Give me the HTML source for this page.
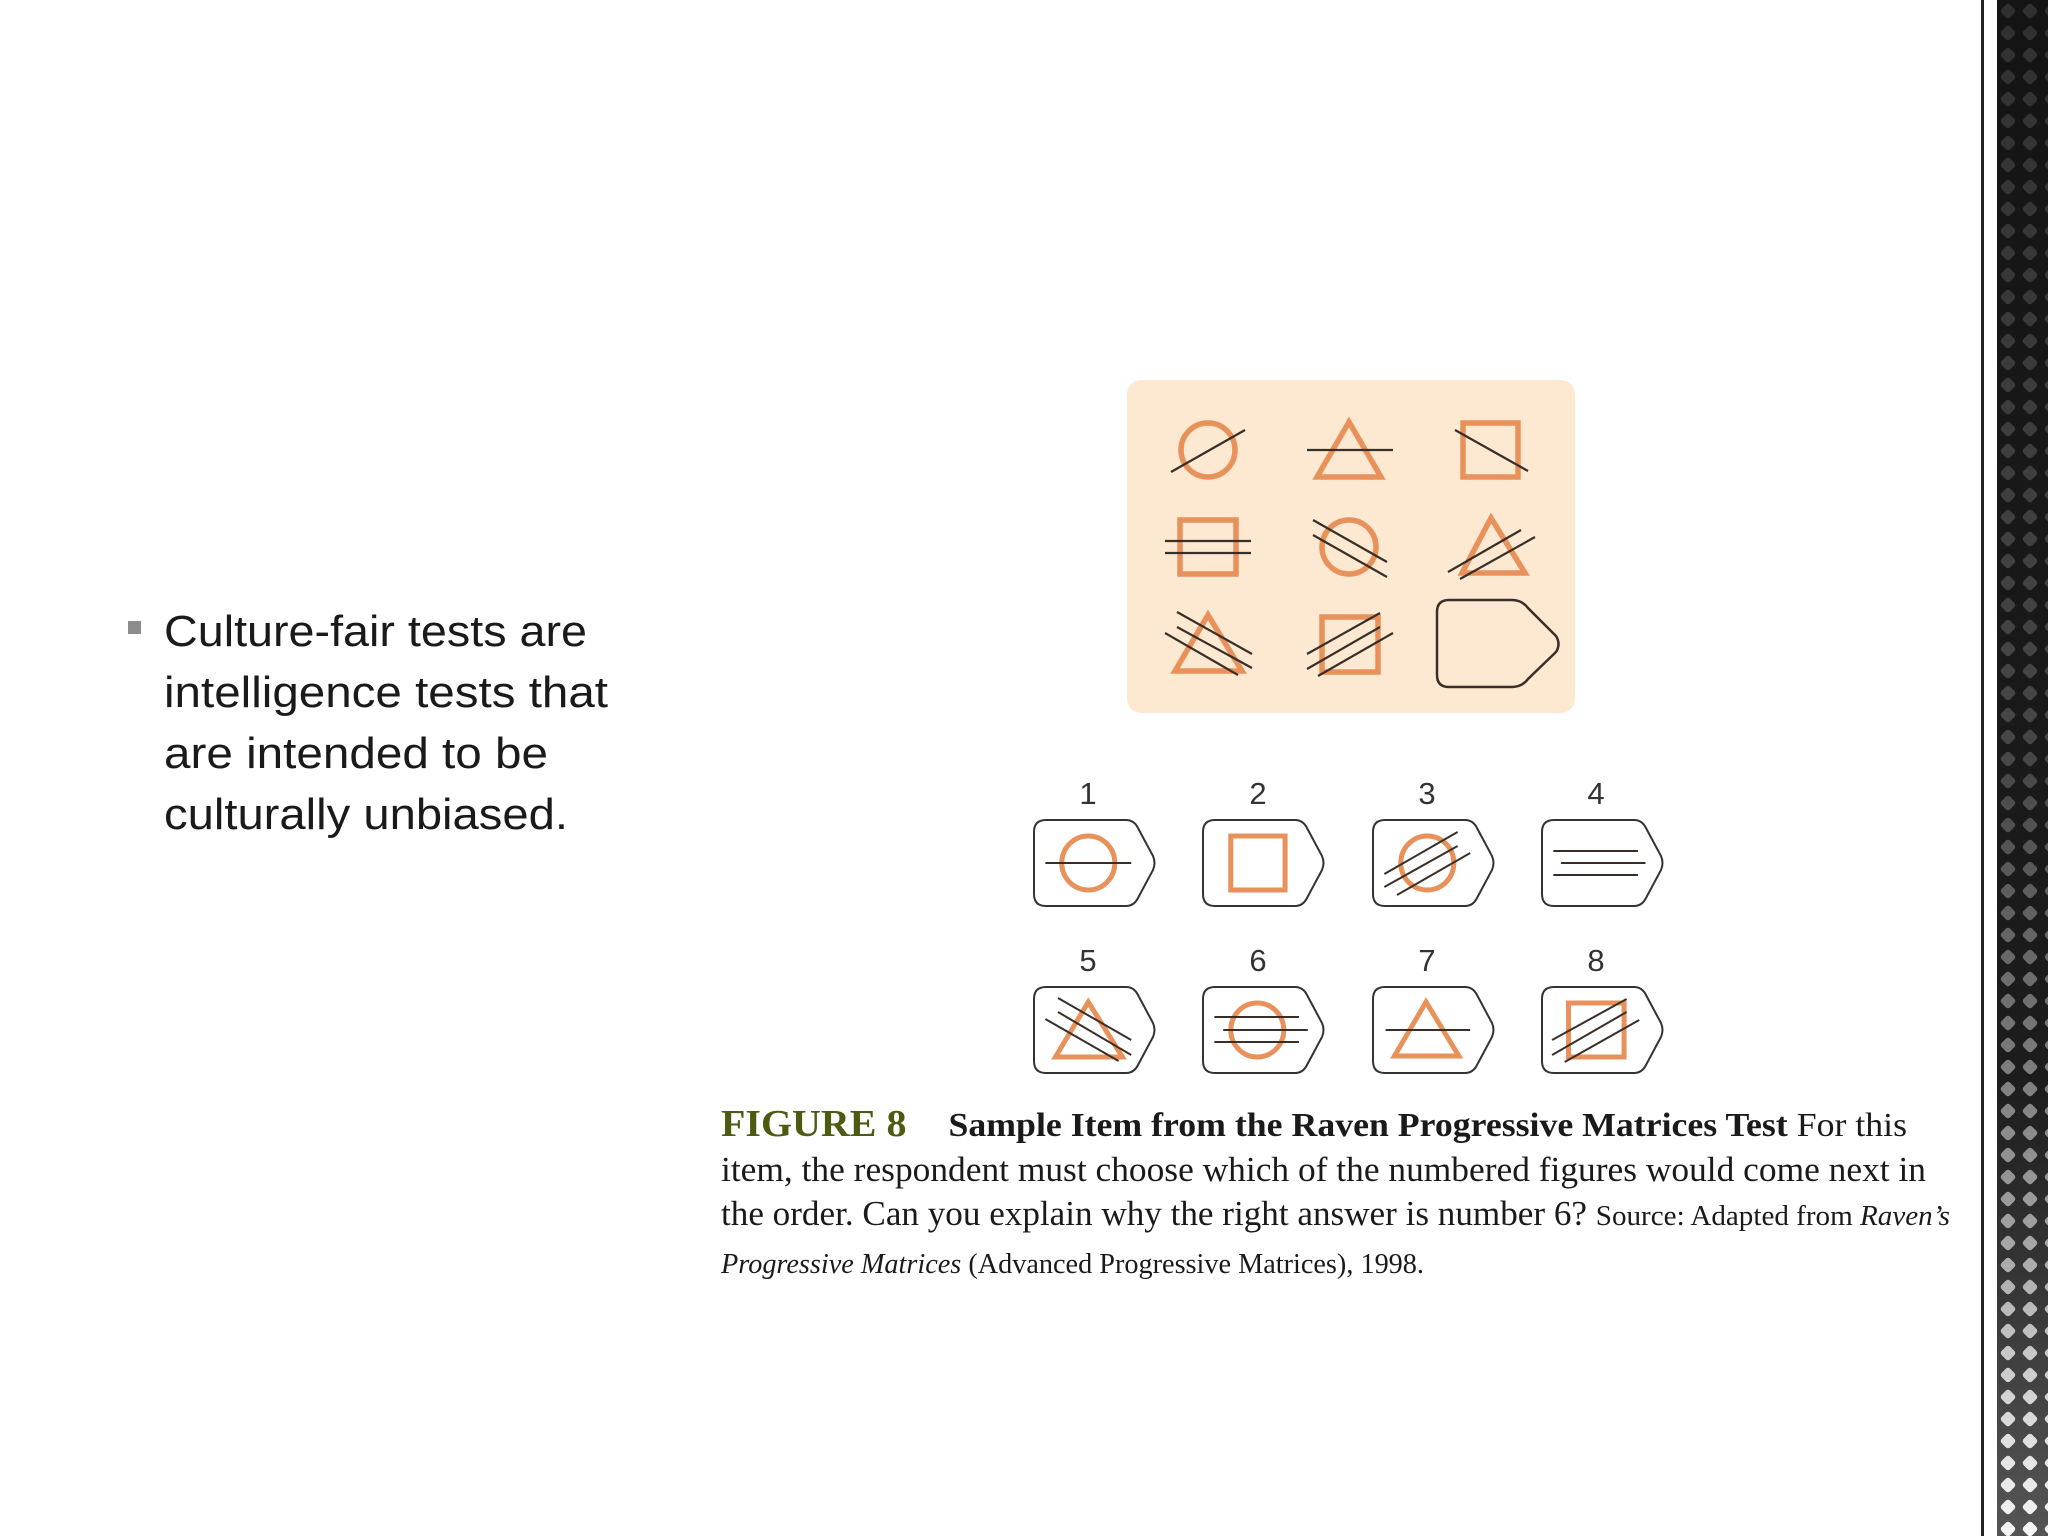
<!DOCTYPE html>
<html><head><meta charset="utf-8"><style>
html,body{margin:0;padding:0;background:#fff;}
svg{display:block}
</style></head><body>
<svg width="2048" height="1536" viewBox="0 0 2048 1536" xmlns="http://www.w3.org/2000/svg">
<defs>
<linearGradient id="mg" x1="0" y1="0" x2="0" y2="1" >
<stop offset="0" stop-color="#fff" stop-opacity="0.12"/><stop offset="0.5" stop-color="#fff" stop-opacity="0.2"/><stop offset="0.8" stop-color="#fff" stop-opacity="0.55"/><stop offset="1" stop-color="#fff" stop-opacity="0.95"/>
</linearGradient>
<linearGradient id="baseg" x1="0" y1="0" x2="0" y2="1">
<stop offset="0" stop-color="#141414"/><stop offset="0.7" stop-color="#1c1c1c"/><stop offset="1" stop-color="#555"/>
</linearGradient>
<mask id="bm" maskUnits="userSpaceOnUse" x="1997" y="0" width="51" height="1536">
<rect x="1997" y="0" width="51" height="1536" fill="url(#mg)"/>
</mask>
<pattern id="dia" x="1997" y="0" width="22" height="22" patternUnits="userSpaceOnUse">
<rect x="5" y="5" width="12" height="12" rx="3" transform="rotate(45 11 11)" fill="#fff"/>
</pattern>
<g id="card"><path d="M12,0 L92,0 Q100,0 104,8 L119,36 Q122,43 119,50 L104,78 Q100,86 92,86 L12,86 Q0,86 0,74 L0,12 Q0,0 12,0 Z" fill="#fff" stroke="#333" stroke-width="2"/></g>
<style>.c *{vector-effect:non-scaling-stroke}</style>
</defs>

<!-- right band -->
<rect x="1981" y="0" width="3" height="1536" fill="#222"/>
<rect x="1997" y="0" width="51" height="1536" fill="url(#baseg)"/>
<rect x="1997" y="0" width="51" height="1536" fill="url(#dia)" mask="url(#bm)"/>

<!-- bullet -->
<rect x="128" y="621" width="13" height="13" fill="#8c8c8c"/>
<g font-family="Liberation Sans, sans-serif" font-size="44" fill="#1a1a1a">
<text x="164" y="646" textLength="423" lengthAdjust="spacingAndGlyphs">Culture-fair tests are</text>
<text x="164" y="707" textLength="444" lengthAdjust="spacingAndGlyphs">intelligence tests that</text>
<text x="164" y="768" textLength="384" lengthAdjust="spacingAndGlyphs">are intended to be</text>
<text x="164" y="829" textLength="404" lengthAdjust="spacingAndGlyphs">culturally unbiased.</text>
</g>

<!-- matrix panel -->
<rect x="1127" y="380" width="448" height="333" rx="14" fill="#fde9d2"/>
<g fill="none" stroke="#e8915a" stroke-width="5.5">
<circle cx="1208" cy="450" r="27"/>
<polygon points="1349,422 1317,477 1381,477"/>
<rect x="1463" y="423" width="55" height="54"/>
<rect x="1180" y="520" width="56" height="54"/>
<circle cx="1349" cy="547" r="27"/>
<polygon points="1491,518 1462,573 1525,573"/>
<polygon points="1208,615 1175,671 1242,671"/>
<rect x="1322" y="617" width="56" height="55"/>
</g>
<g stroke="#3a2f28" stroke-width="2.2" fill="none">
<line x1="1171" y1="472" x2="1245" y2="430"/>
<line x1="1307" y1="450" x2="1393" y2="450"/>
<line x1="1455" y1="430" x2="1528" y2="471"/>
<line x1="1165" y1="541" x2="1251" y2="541"/>
<line x1="1165" y1="553" x2="1251" y2="553"/>
<line x1="1313" y1="520" x2="1387" y2="562"/>
<line x1="1313" y1="535" x2="1387" y2="577"/>
<line x1="1448" y1="572" x2="1521" y2="530"/>
<line x1="1460" y1="579" x2="1535" y2="537"/>
<line x1="1177" y1="612" x2="1252" y2="654"/>
<line x1="1177" y1="627" x2="1252" y2="668"/>
<line x1="1165" y1="633" x2="1238" y2="675"/>
<line x1="1307" y1="654" x2="1380" y2="613"/>
<line x1="1307" y1="669" x2="1380" y2="627"/>
<line x1="1318" y1="676" x2="1393" y2="633"/>
<path d="M1449,600 L1512,600 Q1522,600 1528,608 L1556,636 Q1561,644 1556,652 L1528,679 Q1522,687 1512,687 L1449,687 Q1437,687 1437,675 L1437,612 Q1437,600 1449,600 Z" stroke-width="2.5"/>
</g>

<!-- numbers -->
<g font-family="Liberation Sans, sans-serif" font-size="31" fill="#333" text-anchor="middle">
<text x="1088" y="804">1</text><text x="1258" y="804">2</text><text x="1427" y="804">3</text><text x="1596" y="804">4</text>
<text x="1088" y="971">5</text><text x="1258" y="971">6</text><text x="1427" y="971">7</text><text x="1596" y="971">8</text>
</g>

<!-- card 1 -->
<g transform="translate(1034,820)"><use href="#card"/><g class="c" transform="scale(1.2626,1)">
<ellipse cx="43" cy="43" rx="21" ry="27" fill="none" stroke="#e8915a" stroke-width="5"/>
<line x1="9" y1="43" x2="77" y2="43" stroke="#3a2f28" stroke-width="2"/></g></g>
<!-- card 2 -->
<g transform="translate(1203,820)"><use href="#card"/><g class="c" transform="scale(1.2626,1)">
<rect x="22" y="16" width="43" height="54" fill="none" stroke="#e8915a" stroke-width="5"/></g></g>
<!-- card 3 -->
<g transform="translate(1373,820)"><use href="#card"/><g class="c" transform="scale(1.2626,1)">
<ellipse cx="43" cy="43" rx="21" ry="27" fill="none" stroke="#e8915a" stroke-width="5"/>
<g stroke="#3a2f28" stroke-width="2"><line x1="9" y1="54" x2="67" y2="12"/><line x1="9" y1="67" x2="67" y2="26"/><line x1="19" y1="75" x2="77" y2="33"/></g></g></g>
<!-- card 4 -->
<g transform="translate(1542,820)"><use href="#card"/><g class="c" transform="scale(1.2626,1)">
<g stroke="#3a2f28" stroke-width="2"><line x1="9" y1="31" x2="76" y2="31"/><line x1="15" y1="43" x2="82" y2="43"/><line x1="9" y1="55" x2="76" y2="55"/></g></g></g>
<!-- card 5 -->
<g transform="translate(1034,987)"><use href="#card"/><g class="c" transform="scale(1.2626,1)">
<polygon points="43,15 17,70 70,70" fill="none" stroke="#e8915a" stroke-width="5"/>
<g stroke="#3a2f28" stroke-width="2"><line x1="19" y1="11" x2="77" y2="53"/><line x1="19" y1="25" x2="77" y2="68"/><line x1="9" y1="32" x2="67" y2="74"/></g></g></g>
<!-- card 6 -->
<g transform="translate(1203,987)"><use href="#card"/><g class="c" transform="scale(1.2626,1)">
<ellipse cx="43" cy="43" rx="21" ry="27" fill="none" stroke="#e8915a" stroke-width="5"/>
<g stroke="#3a2f28" stroke-width="2"><line x1="9" y1="30" x2="76" y2="30"/><line x1="16" y1="43" x2="83" y2="43"/><line x1="9" y1="55" x2="76" y2="55"/></g></g></g>
<!-- card 7 -->
<g transform="translate(1373,987)"><use href="#card"/><g class="c" transform="scale(1.2626,1)">
<polygon points="42,15 17,69 68,69" fill="none" stroke="#e8915a" stroke-width="5"/>
<line x1="10" y1="43" x2="77" y2="43" stroke="#3a2f28" stroke-width="2"/></g></g>
<!-- card 8 -->
<g transform="translate(1542,987)"><use href="#card"/><g class="c" transform="scale(1.2626,1)">
<rect x="21" y="16" width="44" height="54" fill="none" stroke="#e8915a" stroke-width="5"/>
<g stroke="#3a2f28" stroke-width="2"><line x1="8" y1="53" x2="67" y2="12"/><line x1="8" y1="68" x2="67" y2="25"/><line x1="18" y1="75" x2="77" y2="33"/></g></g></g>

<!-- caption -->
<g font-family="Liberation Serif, serif" fill="#1a1a1a">
<text x="721" y="1136" font-size="38" textLength="1186" lengthAdjust="spacingAndGlyphs"><tspan fill="#4d5a12" font-weight="bold">FIGURE  8</tspan><tspan dx="40" font-weight="bold" font-size="34">Sample Item from the Raven Progressive Matrices Test</tspan><tspan font-size="34"> For this</tspan></text>
<text x="721" y="1181" font-size="35" textLength="1205" lengthAdjust="spacingAndGlyphs">item, the respondent must choose which of the numbered figures would come next in</text>
<text x="721" y="1225" font-size="35" textLength="1229" lengthAdjust="spacingAndGlyphs">the order. Can you explain why the right answer is number 6? <tspan font-size="29">Source: Adapted from </tspan><tspan font-size="29" font-style="italic">Raven’s</tspan></text>
<text x="721" y="1273" font-size="29" textLength="703" lengthAdjust="spacingAndGlyphs"><tspan font-style="italic">Progressive Matrices</tspan> (Advanced Progressive Matrices), 1998.</text>
</g>
</svg>
</body></html>
